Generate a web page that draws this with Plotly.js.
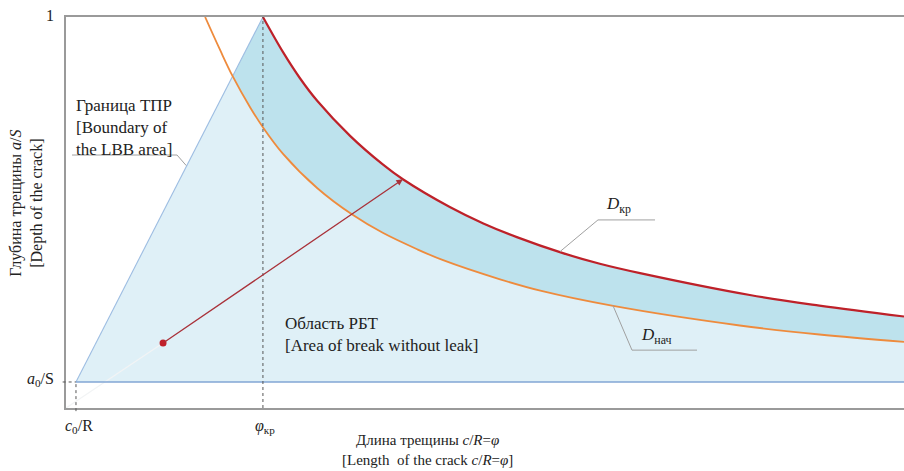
<!DOCTYPE html>
<html>
<head>
<meta charset="utf-8">
<script src="https://cdn.plot.ly/plotly-3.0.1.min.js"></script>
<style>html,body{margin:0;padding:0;background:#fff;}#chart{width:904px;height:471px;}</style>
</head>
<body>
<div id="chart"></div>
<script>
// Key points (normalized axes: x = c/R, y = a/S)
const c0R = 0.0119;      // c0/R
const a0S = 0.0665;      // a0/S
const phiKr = 0.235;     // φкр
const yTop = 1;          // a/S = 1

// D нач (initial) curve
const orangeX = [0.166, 0.184, 0.199, 0.220, 0.235, 0.259, 0.300, 0.342, 0.378, 0.419, 0.450, 0.518, 0.566, 0.653, 0.804, 0.899, 1.0];
const orangeY = [1.000, 0.915, 0.848, 0.768, 0.718, 0.650, 0.562, 0.494, 0.448, 0.406, 0.378, 0.329, 0.300, 0.261, 0.211, 0.188, 0.169];

// D кр (critical) curve
const redX = [0.235, 0.259, 0.279, 0.300, 0.339, 0.378, 0.402, 0.458, 0.498, 0.538, 0.593, 0.637, 0.685, 0.816, 0.899, 1.0];
const redY = [1.000, 0.910, 0.844, 0.785, 0.696, 0.623, 0.585, 0.514, 0.472, 0.437, 0.396, 0.369, 0.345, 0.289, 0.262, 0.234];

// Crack growth arrow: start point and end point
const arrowStart = [0.1158, 0.166];
const arrowEnd = [0.402, 0.585];

const crossIdx = 2; // orange point lying on the LBB boundary

const FONT = '"Liberation Serif", serif';
const TXT = '#222';

const traces = [
  // light region
  {x: [c0R, ...redX, 1, c0R], y: [a0S, ...redY, a0S, a0S], mode: 'lines', fill: 'toself',
   fillcolor: '#dff0f7', line: {width: 0}, hoverinfo: 'skip'},
  // darker band between Dнач and Dкр
  {x: [orangeX[crossIdx], ...redX, ...orangeX.slice(crossIdx).reverse()],
   y: [orangeY[crossIdx], ...redY, ...orangeY.slice(crossIdx).reverse()],
   mode: 'lines', fill: 'toself', fillcolor: '#bde2ed', line: {width: 0}, hoverinfo: 'skip'},
  // faint guide from origin to start point
  {x: [0, arrowStart[0]], y: [0, arrowStart[1]], mode: 'lines', line: {color: '#f2f4f5', width: 1.2}, hoverinfo: 'skip'},
  // LBB boundary
  {x: [c0R, phiKr], y: [a0S, yTop], mode: 'lines', line: {color: '#9dbde2', width: 1.1}, hoverinfo: 'skip'},
  // a0/S line
  {x: [c0R, 1], y: [a0S, a0S], mode: 'lines', line: {color: '#82a6d5', width: 1.4}, hoverinfo: 'skip'},
  // Dнач
  {x: orangeX, y: orangeY, mode: 'lines', line: {color: '#ee8b3d', width: 1.8, shape: 'spline', smoothing: 1}, hoverinfo: 'skip'},
  // Dкр
  {x: redX, y: redY, mode: 'lines', line: {color: '#be2129', width: 2.2, shape: 'spline', smoothing: 1}, hoverinfo: 'skip'},
  // start dot
  {x: [arrowStart[0]], y: [arrowStart[1]], mode: 'markers', marker: {color: '#c0202a', size: 7}, hoverinfo: 'skip'}
];

const dash = {color: '#555', width: 1, dash: '3px,3px'};
const lead = {color: '#a0a0a0', width: 1};

const shapes = [
  {type: 'line', xref: 'x', yref: 'y', x0: phiKr, x1: phiKr, y0: 0, y1: yTop, line: dash},
  {type: 'line', xref: 'paper', yref: 'paper', x0: c0R, x1: c0R, y0: -0.008, y1: a0S, line: dash},
  {type: 'line', xref: 'paper', yref: 'paper', x0: -0.004, x1: c0R, y0: a0S, y1: a0S, line: dash},
  // leader: boundary label
  {type: 'path', xref: 'x', yref: 'y', path: 'M0.0072,0.647 L0.1325,0.647 L0.1435,0.620', line: lead},
  // leader: Dкр
  {type: 'path', xref: 'x', yref: 'y', path: 'M0.5895,0.400 L0.6348,0.481 L0.7029,0.481', line: lead},
  // leader: Dнач
  {type: 'path', xref: 'x', yref: 'y', path: 'M0.6527,0.262 L0.6754,0.148 L0.7530,0.148', line: lead}
];

function ann(text, x, y, xa, ya, size, extra) {
  return Object.assign({text: text, x: x, y: y, xref: 'paper', yref: 'paper', xanchor: xa, yanchor: ya,
    showarrow: false, font: {family: FONT, size: size, color: TXT}, align: xa === 'center' ? 'center' : 'left'}, extra || {});
}

const annotations = [
  // arrow
  {x: arrowEnd[0], y: arrowEnd[1], ax: arrowStart[0], ay: arrowStart[1], xref: 'x', yref: 'y', axref: 'x', ayref: 'y',
   text: '', showarrow: true, arrowhead: 2, arrowsize: 1.0, arrowwidth: 1.3, arrowcolor: '#a9323a', standoff: 0},
  // tick labels
  ann('1', -0.0125, 1.005, 'right', 'middle', 16),
  ann('<i>a</i><sub>0</sub>/S', -0.012, 0.073, 'right', 'middle', 16),
  ann('<i>c</i><sub>0</sub>/R', -0.003, -0.047, 'left', 'middle', 16),
  ann('<i>φ</i><sub>кр</sub>', 0.238, -0.047, 'center', 'middle', 16),
  // axis titles
  ann('Длина трещины <i>c</i>/<i>R</i>=<i>φ</i><br>[Length  of the crack <i>c</i>/<i>R</i>=<i>φ</i>]', 0.431, -0.107, 'center', 'middle', 15),
  ann('Глубина трещины <i>a</i>/<i>S</i><br>[Depth of the crack]', -0.047, 0.524, 'center', 'middle', 16, {textangle: -90}),
  // region labels
  ann('Граница ТПР<br>[Boundary of<br>the LBB area]', 0.0095, 0.717, 'left', 'middle', 17),
  ann('Область РБТ<br>[Area of break without leak]', 0.2595, 0.189, 'left', 'middle', 17),
  ann('<i>D</i><sub>кр</sub>', 0.6425, 0.518, 'left', 'middle', 17),
  ann('<i>D</i><sub>нач</sub>', 0.6835, 0.185, 'left', 'middle', 17)
];

const layout = {
  width: 904, height: 471,
  margin: {l: 66, r: 0, t: 17, b: 63},
  paper_bgcolor: '#fff', plot_bgcolor: '#fff',
  showlegend: false,
  xaxis: {range: [0, 1], showgrid: false, zeroline: false, showticklabels: false, ticks: '',
          showline: true, linecolor: '#9a9a9a', linewidth: 1.6, mirror: true, fixedrange: true},
  yaxis: {range: [0, 1], showgrid: false, zeroline: false, showticklabels: false, ticks: '',
          showline: true, linecolor: '#9a9a9a', linewidth: 1.6, fixedrange: true},
  shapes: shapes,
  annotations: annotations
};

Plotly.newPlot('chart', traces, layout, {displayModeBar: false, staticPlot: true});
</script>
</body>
</html>
